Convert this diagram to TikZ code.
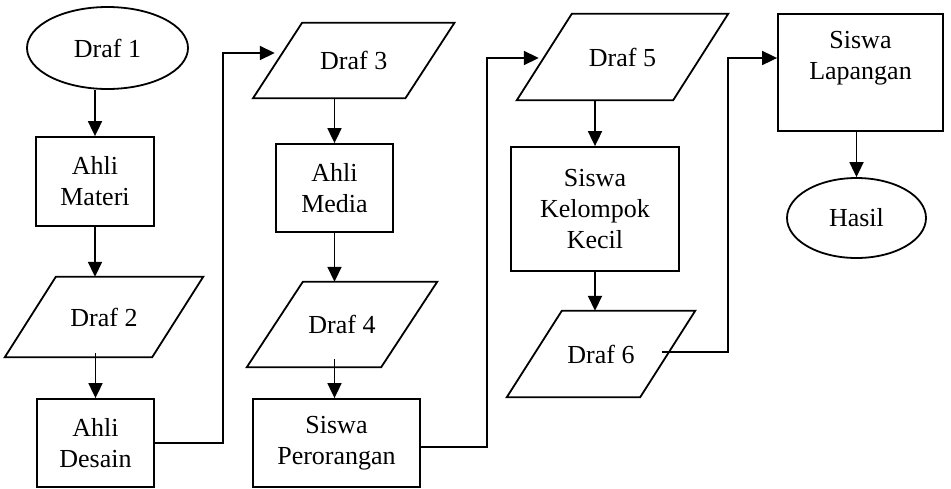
\documentclass[tikz,border=0pt]{standalone}
\usepackage{fontspec}
\setmainfont{Liberation Serif}
\usetikzlibrary{arrows.meta,shapes.geometric,calc}
\tikzset{
  every node/.style={font=\fontsize{26}{31}\selectfont},
  box/.style={draw, line width=1.8pt, rectangle, align=center, inner sep=0pt},
  oval/.style={draw, line width=1.8pt, ellipse, inner sep=0pt},
  ptext/.style={inner sep=0pt, align=center},
  conn/.style={line width=1.8pt},
  arr/.style={line width=1.8pt, -{Triangle[length=15pt,width=14pt]}},
}
\newcommand\drawpar[2]{\draw[conn] ([xshift=-#2/2]#1.south west) -- ([xshift=-#2/2]#1.south east) -- ([xshift=#2/2]#1.north east) -- ([xshift=#2/2]#1.north west) -- cycle;}
\begin{document}
\begin{tikzpicture}[x=1pt,y=-1pt]
\useasboundingbox (0,0) rectangle (951,488);
% nodes
\node[oval, minimum width=161pt, minimum height=82pt] (d1) at (107.5,48) {Draf 1};
\node[box, minimum width=118pt, minimum height=89pt] (ma) at (95,181.5) {Ahli\\Materi};
\node[ptext, minimum width=147pt, minimum height=80pt] (d2) at (104,317) {Draf 2};
\drawpar{d2}{51}
\node[box, minimum width=117pt, minimum height=88pt] (de) at (95.5,443) {Ahli\\Desain};
\node[ptext, minimum width=152pt, minimum height=75pt] (d3) at (353.75,60.5) {Draf 3};
\drawpar{d3}{49}
\node[box, minimum width=117pt, minimum height=88pt] (me) at (334.5,188) {Ahli\\Media};
\node[ptext, minimum width=134pt, minimum height=85pt] (d4) at (342,324.5) {Draf 4};
\drawpar{d4}{56}
\node[box, minimum width=167pt, minimum height=88pt] (sp) at (336.5,443) {Siswa\\Perorangan};
\node[ptext, minimum width=156pt, minimum height=86pt] (d5) at (622.5,57) {Draf 5};
\drawpar{d5}{55}
\node[box, minimum width=168pt, minimum height=124pt] (sk) at (595,209) {Siswa\\Kelompok\\Kecil};
\node[ptext, minimum width=133pt, minimum height=86pt] (d6) at (601,354) {Draf 6};
\drawpar{d6}{55}
\node[box, minimum width=165pt, minimum height=117pt] (sl) at (860.5,72.5) {};
\node[ptext] (slt) at (860.5,58) {Siswa\\Lapangan};
\node[oval, minimum width=139pt, minimum height=80pt] (ha) at (856.5,218) {Hasil};
% corner coordinates
\coordinate (c1) at (223,443);
\coordinate (c2) at (223,53);
\coordinate (c3) at (487,447);
\coordinate (c4) at (487,58);
\coordinate (c5) at (728,352);
\coordinate (c6) at (728,58);
% connectors
\draw[arr] (d1.south -| ma.north) -- (ma.north);
\draw[arr] (ma.south) -- (ma.south |- d2.north);
\draw[arr] ([yshift=4pt]d2.south -| de.north) -- (de.north);
\draw[arr] (de.east) -- (c1) -- (c2) -- ([xshift=-2.75pt,yshift=7.5pt]d3.west);
\draw[arr] (d3.south -| me.north) -- (me.north);
\draw[arr] (me.south) -- (me.south |- d4.north);
\draw[arr] ([yshift=8pt]d4.south -| me.south) -- (me.south |- sp.north);
\draw[arr] ([yshift=-4pt]sp.east) -- (c3) -- (c4) -- ([xshift=-5.5pt,yshift=-1pt]d5.west);
\draw[arr] (d5.south -| sk.north) -- (sk.north);
\draw[arr] (sk.south) -- (sk.south |- d6.north);
\draw[arr] ([xshift=-6pt,yshift=2pt]d6.east) -- (c5) -- (c6) -- ([yshift=14.5pt]sl.west);
\draw[arr] (sl.south -| ha.north) -- (ha.north);
\end{tikzpicture}
\end{document}
